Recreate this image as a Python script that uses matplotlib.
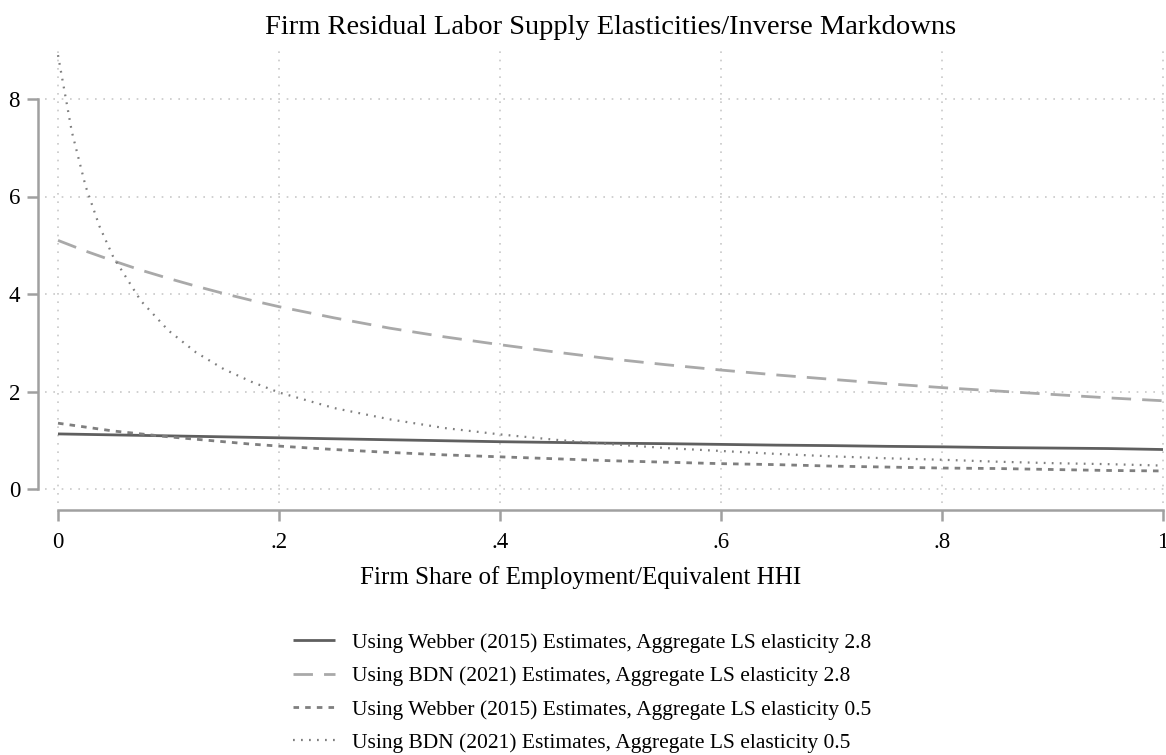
import matplotlib
matplotlib.use("Agg")
import matplotlib.pyplot as plt

plt.rcParams['font.family'] = ['Liberation Serif', 'DejaVu Serif']

share = [0.0, 0.0125, 0.025, 0.0375, 0.05, 0.075, 0.1, 0.125, 0.15, 0.175, 0.2, 0.25, 0.3, 0.35, 0.4,
         0.45, 0.5, 0.55, 0.6, 0.65, 0.7, 0.75, 0.8, 0.85, 0.9, 0.95, 1.0]

webber_28 = [1.13, 1.125, 1.12, 1.115, 1.11, 1.10, 1.09, 1.08, 1.07, 1.06, 1.05, 1.03, 1.01, 0.99, 0.97,
             0.955, 0.94, 0.93, 0.915, 0.90, 0.89, 0.875, 0.865, 0.85, 0.84, 0.83, 0.81]
bdn_28 = [5.10, 4.99, 4.88, 4.78, 4.68, 4.49, 4.32, 4.16, 4.01, 3.87, 3.74, 3.51, 3.30, 3.12, 2.96,
          2.81, 2.67, 2.55, 2.44, 2.34, 2.25, 2.16, 2.08, 2.01, 1.94, 1.87, 1.81]
webber_05 = [1.35, 1.31, 1.27, 1.23, 1.19, 1.13, 1.07, 1.02, 0.97, 0.92, 0.88, 0.81, 0.75, 0.70, 0.66,
             0.62, 0.58, 0.55, 0.52, 0.50, 0.47, 0.45, 0.43, 0.42, 0.40, 0.38, 0.37]
bdn_05 = [8.9, 7.33, 6.21, 5.39, 4.76, 3.86, 3.25, 2.80, 2.46, 2.20, 1.98, 1.66, 1.43, 1.25, 1.12,
          1.01, 0.92, 0.84, 0.78, 0.72, 0.67, 0.63, 0.60, 0.56, 0.53, 0.51, 0.48]

labels = ["Using Webber (2015) Estimates, Aggregate LS elasticity 2.8",
          "Using BDN (2021) Estimates, Aggregate LS elasticity 2.8",
          "Using Webber (2015) Estimates, Aggregate LS elasticity 0.5",
          "Using BDN (2021) Estimates, Aggregate LS elasticity 0.5"]

xticks = [0, 0.2, 0.4, 0.6, 0.8, 1.0]
xticklabels = ["0", ".2", ".4", ".6", ".8", "1"]
yticks = [0, 2, 4, 6, 8]
yticklabels = ["0", "2", "4", "6", "8"]

W, H = 1166, 755
fig = plt.figure(figsize=(W / 100, H / 100), dpi=100)
left_px, right_px, top_px, bottom_px = 45, 1166, 45, 503
ax = fig.add_axes([left_px / W, 1 - bottom_px / H, (right_px - left_px) / W, (bottom_px - top_px) / H])

x0_px, xscale = 58, 1105.0
y0_px, yscale = 489, 48.75
ax.set_xlim((left_px - x0_px) / xscale, (right_px - x0_px) / xscale)
ax.set_ylim((y0_px - bottom_px) / yscale, (y0_px - top_px) / yscale)

styles = [
    dict(color="#5f5f5f", lw=2.0, ls="-"),
    dict(color="#a9a9a9", lw=2.0, ls=(0, (7, 4))),
    dict(color="#7f7f7f", lw=2.0, ls=(0, (2, 2.2))),
    dict(color="#7f7f7f", lw=1.6, ls=(0, (0.8, 2.8))),
]
series = [webber_28, bdn_28, webber_05, bdn_05]
handles = []
for s, st, lab in zip(series, styles, labels):
    ln, = ax.plot(share, s, **st, label=lab, solid_capstyle="butt", dash_capstyle="butt")
    handles.append(ln)

for yv in yticks:
    ax.axhline(yv, color="#c8c8c8", lw=1.2, ls=(0, (1, 4)), zorder=0)
for xv in xticks:
    ax.axvline(xv, color="#c8c8c8", lw=1.2, ls=(0, (1, 4)), zorder=0)

for sp in ["top", "right"]:
    ax.spines[sp].set_visible(False)
ax.spines["left"].set_position(("outward", 5))
ax.spines["bottom"].set_position(("outward", 5))
ax.spines["left"].set_bounds(0, 8)
ax.spines["bottom"].set_bounds(0, 1)
for sp in ["left", "bottom"]:
    ax.spines[sp].set_color("#a0a0a0")
    ax.spines[sp].set_linewidth(1.8)

ax.set_xticks(xticks)
ax.set_xticklabels(xticklabels)
ax.set_yticks(yticks)
ax.set_yticklabels(yticklabels)
ax.tick_params(axis="both", colors="#a0a0a0", width=1.8, length=8, labelsize=16.5, labelcolor="black")
ax.tick_params(axis="x", pad=8)
ax.tick_params(axis="y", pad=5)

fig.text(611 / W, 1 - 27 / H, "Firm Residual Labor Supply Elasticities/Inverse Markdowns",
         ha="center", va="center", fontsize=20.5)
fig.text(581 / W, 1 - 578 / H, "Firm Share of Employment/Equivalent HHI",
         ha="center", va="center", fontsize=18)

leg = fig.legend(handles=handles, labels=labels, loc="upper left",
                 bbox_to_anchor=(284 / W, 1 - 624 / H), frameon=False, fontsize=15.5,
                 handlelength=1.95, handletextpad=0.8, labelspacing=0.62, borderaxespad=0)

fig.savefig("out.png", dpi=100)
